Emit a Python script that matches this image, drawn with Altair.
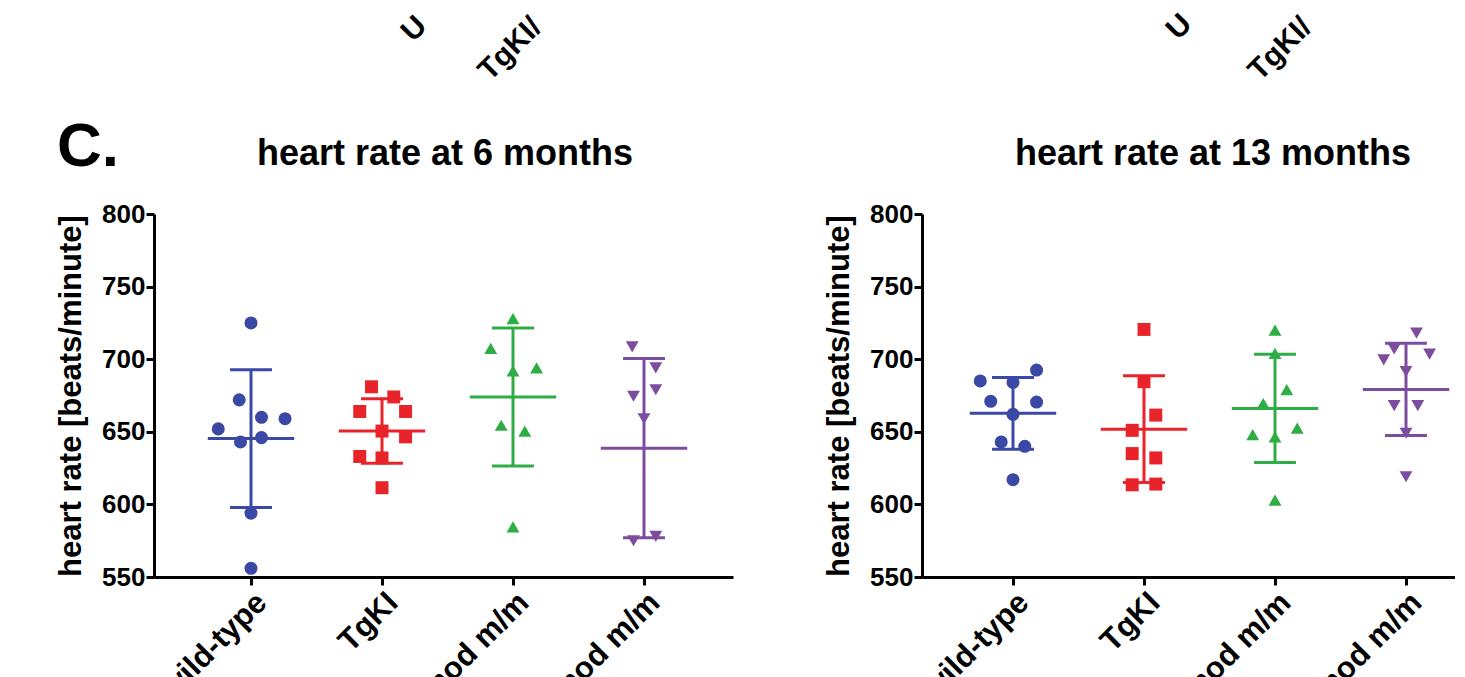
import json
import altair as alt
import pandas as pd

FONT = "Liberation Sans, Arial, sans-serif"

groups = ["wild-type", "TgKI", "Umod m/m", "TgKI/Umod m/m"]
colors = ["#3a48a6", "#e8232a", "#2fad45", "#7c4d9f"]
shapes = ["circle", "square", "triangle-up", "triangle-down"]
sizes = [170, 165, 230, 230]

# heart rate at 6 months: values and horizontal scatter offsets (category units)
m6_wild_type = [725, 672, 660, 659, 652, 643, 646, 594, 556]
m6_wild_type_dx = [0, -0.09, 0.08, 0.26, -0.25, -0.08, 0.08, 0, 0]
m6_tgki = [681, 674, 664, 664, 650.5, 646.5, 633, 632, 611.5]
m6_tgki_dx = [-0.08, 0.09, -0.17, 0.18, 0, 0.18, -0.17, 0, 0]
m6_umod = [728, 707.5, 692, 694, 654.5, 650.5, 584.5]
m6_umod_dx = [0, -0.17, 0, 0.18, -0.09, 0.09, 0]
m6_tgki_umod = [708.5, 694, 679, 674.5, 659, 575, 578]
m6_tgki_umod_dx = [-0.09, 0.09, 0.09, -0.08, 0, -0.08, 0.09]
m6_mean = [645.3, 650.5, 674.0, 638.7]
m6_sd = [47.4, 22.2, 47.5, 61.7]

# heart rate at 13 months
m13_wild_type = [685, 684, 692.5, 671, 670.5, 662, 643, 640, 617]
m13_wild_type_dx = [-0.25, 0, 0.18, -0.17, 0.18, 0, -0.09, 0.09, 0]
m13_tgki = [720.5, 684.5, 661.5, 651, 635, 632, 613.5, 614]
m13_tgki_dx = [0, 0, 0.09, -0.09, -0.09, 0.09, -0.09, 0.09]
m13_umod = [720, 704, 679, 669.5, 648, 646.5, 652.5, 603]
m13_umod_dx = [0, 0, 0.09, -0.09, -0.17, 0, 0.17, 0]
m13_tgki_umod = [718, 707, 703.5, 699.5, 691.5, 668, 668, 649, 619]
m13_tgki_umod_dx = [0.08, -0.09, 0.18, -0.17, 0, -0.09, 0.09, 0, 0]
m13_mean = [662.7, 651.8, 666.1, 679.2]
m13_sd = [24.7, 36.8, 37.3, 31.8]

y_ticks = [550, 600, 650, 700, 750, 800]

PH = 363
STEP = 131.0

color_enc = alt.Color("group:N", scale=alt.Scale(domain=groups, range=colors), legend=None)
shape_enc = alt.Shape("group:N", scale=alt.Scale(domain=groups, range=shapes), legend=None)
size_enc = alt.Size("group:N", scale=alt.Scale(domain=groups, range=sizes), legend=None)
label_expr = json.dumps(groups) + "[datum.value - 1]"
dummy = pd.DataFrame({"k": [0]})


def text_layer(txt, fx, fy, size, angle=0, align="left"):
    kw = dict(align=align, baseline="alphabetic", font=FONT, fontSize=size,
              fontWeight="bold", color="black")
    if angle:
        kw["angle"] = angle
    return alt.Chart(dummy).mark_text(**kw).encode(
        x=alt.value(fx), y=alt.value(fy), text=alt.value(txt))


def panel(vals, dxs, means, sds, title, pw, x0, fragments, extra=None):
    rows = []
    for i, (vs, ds) in enumerate(zip(vals, dxs)):
        for v, d in zip(vs, ds):
            rows.append({"group": groups[i], "pos": i + 1 + d, "hr": v})
    pts = pd.DataFrame(rows)
    stats = pd.DataFrame({"group": groups, "pos": [1, 2, 3, 4], "mean": means, "sd": sds})

    xscale = alt.Scale(domain=[x0, x0 + pw / STEP], nice=False, zero=False)
    yscale = alt.Scale(domain=[550, 800], nice=False, zero=False)
    xaxis = alt.Axis(values=[1, 2, 3, 4], labelExpr=label_expr, labelAngle=-45,
                     labelAlign="right", labelBaseline="top", labelFontSize=31,
                     labelPadding=2, labelLimit=0, title=None, labelFlush=False,
                     labelOverlap=False)
    yaxis = alt.Axis(values=y_ticks, title="heart rate [beats/minute]", labelFlush=False,
                     labelOverlap=False)

    def X(f):
        return alt.X(f, type="quantitative", scale=xscale, axis=xaxis)

    def Y(f):
        return alt.Y(f, type="quantitative", scale=yscale, axis=yaxis)

    base_stats = alt.Chart(stats).transform_calculate(
        lo="datum.mean - datum.sd", hi="datum.mean + datum.sd",
        cl="datum.pos - 0.16", cr="datum.pos + 0.16",
        ml="datum.pos - 0.33", mr="datum.pos + 0.33")

    vbar = base_stats.mark_rule(strokeWidth=3).encode(x=X("pos"), y=Y("lo"), y2="hi:Q", color=color_enc)
    cap_lo = base_stats.mark_rule(strokeWidth=3).encode(x=X("cl"), x2="cr:Q", y=Y("lo"), color=color_enc)
    cap_hi = base_stats.mark_rule(strokeWidth=3).encode(x=X("cl"), x2="cr:Q", y=Y("hi"), color=color_enc)
    mean_line = base_stats.mark_rule(strokeWidth=3).encode(x=X("ml"), x2="mr:Q", y=Y("mean"), color=color_enc)

    points = alt.Chart(pts).mark_point(filled=True, opacity=1).encode(
        x=X("pos"), y=Y("hr"), color=color_enc, shape=shape_enc, size=size_enc)

    layers = [vbar, cap_lo, cap_hi, mean_line, points,
              text_layer(title, 291, -49, 36, align="center")]
    for txt, fx, fy in fragments:
        layers.append(text_layer(txt, fx, fy, 30, angle=315))
    if extra:
        layers.extend(extra)

    return alt.layer(*layers).properties(width=pw, height=PH)


panel_letter = text_layer("C.", -97, -48, 62)
anchor = alt.Chart(dummy).mark_rule(strokeOpacity=0, strokeWidth=1).encode(
    x=alt.value(-146), x2=alt.value(-140), y=alt.value(-205.5))

left = panel([m6_wild_type, m6_tgki, m6_umod, m6_tgki_umod],
             [m6_wild_type_dx, m6_tgki_dx, m6_umod_dx, m6_tgki_umod_dx],
             m6_mean, m6_sd, "heart rate at 6 months", 579, 1 - 97 / STEP,
             [("U", 259, -171), ("TgKI/", 336, -132)],
             extra=[panel_letter, anchor])

right = panel([m13_wild_type, m13_tgki, m13_umod, m13_tgki_umod],
              [m13_wild_type_dx, m13_tgki_dx, m13_umod_dx, m13_tgki_umod_dx],
              m13_mean, m13_sd, "heart rate at 13 months", 533, 1 - 91 / STEP,
              [("U", 256, -173), ("TgKI/", 338, -132)])

chart = alt.hconcat(left, right, spacing=90).properties(
    padding={"left": 0, "top": 0, "right": 0, "bottom": 0}
).configure_view(strokeWidth=0).configure_axis(
    domainColor="black", domainWidth=3, tickColor="black", tickWidth=3, tickSize=8,
    labelFont=FONT, labelFontSize=26, labelFontWeight="bold", labelColor="black",
    titleFont=FONT, titleFontSize=31, titleFontWeight="bold", titleColor="black",
    grid=False, labelPadding=1, titlePadding=14)

chart.save("out.html", embed_options={"renderer": "svg", "actions": False})
